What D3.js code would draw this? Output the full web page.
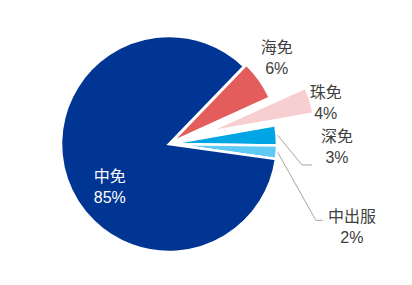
<!DOCTYPE html>
<html>
<head>
<meta charset="utf-8">
<script src="https://cdn.jsdelivr.net/npm/d3@7"></script>
<style>
  html, body { margin: 0; padding: 0; background: #fff; }
  svg { display: block; }
  text { font-family: "Liberation Sans", Arial, "Noto Sans CJK SC", sans-serif; }
</style>
</head>
<body>
<div id="chart"></div>
<script>
// market share of duty free operators
const names   = ["海免", "珠免", "深免", "中出服", "中免"]
const values  = [6, 4, 3, 2, 85]
const colors  = ["#e25d5c", "#f8cfd0", "#00a5e3", "#5fcaf4", "#003594"]

// label placement (polar, degrees clockwise from 12 o'clock) and explode distance
const layout = [
  { angle: 51.3,  radius: 138, explode: 3,  leader: null },
  { angle: 75.3,  radius: 162, explode: 40, leader: null },
  { angle: 91,    radius: 168, explode: 0,  leader: { dx: -25, dy: 18, elbow: 10 } },
  { angle: 114.5, radius: 201, explode: 0,  leader: { dx: -29, dy: -7, elbow: 7 } },
  { angle: 234.2, radius: 73,  explode: 0,  leader: null }
]

const W = 412, H = 285
const cx = 169, cy = 144, R = 108
const startDeg = 44

const svg = d3.select("#chart").append("svg")
  .attr("width", W).attr("height", H)

const g = svg.append("g").attr("transform", `translate(${cx},${cy})`)

const rad = d => d * Math.PI / 180
const polar = (deg, r) => [r * Math.sin(rad(deg)), -r * Math.cos(rad(deg))]

const pie = d3.pie().sort(null).value(d => d)
  .startAngle(rad(startDeg)).endAngle(rad(startDeg + 360))
const arcs = pie(values)
const arc = d3.arc().innerRadius(0).outerRadius(R)

// slices
g.selectAll("path.slice")
  .data(arcs)
  .join("path")
  .attr("class", "slice")
  .attr("d", arc)
  .attr("transform", (d, i) => {
    const mid = (d.startAngle + d.endAngle) / 2
    const e = layout[i].explode
    return `translate(${e * Math.sin(mid)},${-e * Math.cos(mid)})`
  })
  .attr("fill", (d, i) => colors[i])
  .attr("stroke", "#fff")
  .attr("stroke-width", 2.5)
  .attr("stroke-linejoin", "miter")

// leader lines for the small slices
arcs.forEach((d, i) => {
  const L = layout[i].leader
  if (!L) return
  const mid = (d.startAngle + d.endAngle) / 2 * 180 / Math.PI
  const [sx, sy] = polar(mid, R + 1)
  const [lx, ly] = polar(layout[i].angle, layout[i].radius)
  const ex = lx + L.dx, ey = ly + L.dy
  g.append("polyline")
    .attr("points", [[sx, sy], [ex - L.elbow, ey], [ex, ey]].map(p => p.join(",")).join(" "))
    .attr("fill", "none")
    .attr("stroke", "#a6a6a6")
    .attr("stroke-width", 1)
})

// labels
arcs.forEach((d, i) => {
  const [lx, ly] = polar(layout[i].angle, layout[i].radius)
  const fill = i === 4 ? "#ffffff" : "#404040"
  const t = g.append("text")
    .attr("text-anchor", "middle")
    .style("font-size", "16px")
    .style("fill", fill)
  t.append("tspan").attr("x", lx).attr("y", ly - 5).text(names[i])
  t.append("tspan").attr("x", lx).attr("y", ly + 16).text(values[i] + "%")
})
</script>
</body>
</html>
